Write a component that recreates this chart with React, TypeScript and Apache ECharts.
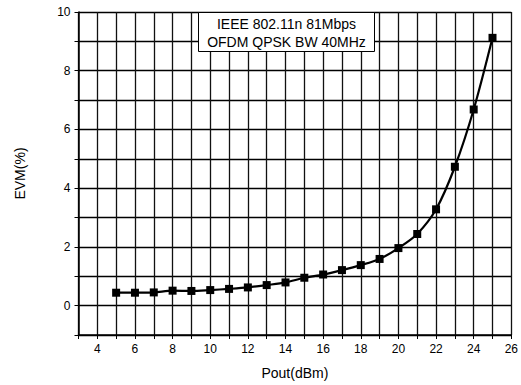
import React, { useEffect, useRef } from "react";
import * as echarts from "echarts";

const poutDbm = [5, 6, 7, 8, 9, 10, 11, 12, 13, 14, 15, 16, 17, 18, 19, 20, 21, 22, 23, 24, 25];
const evmPct = [0.44, 0.44, 0.45, 0.51, 0.5, 0.53, 0.57, 0.62, 0.7, 0.79, 0.95, 1.06, 1.21, 1.38, 1.59, 1.96, 2.44, 3.28, 4.73, 6.68, 9.12];
const annotationLines = ["IEEE 802.11n 81Mbps", "OFDM QPSK BW 40MHz"];
const xLabel = "Pout(dBm)";
const yLabel = "EVM(%)";

export default function App() {
  const ref = useRef<HTMLDivElement>(null);
  useEffect(() => {
    if (!ref.current) return;
    const chart = echarts.init(ref.current, undefined, { renderer: "svg" });
    const font = "'Liberation Sans', Arial, sans-serif";
    const data = poutDbm.map((x, i) => [x, evmPct[i]]);
    chart.setOption({
      animation: false,
      backgroundColor: "#fff",
      grid: { left: 78.5, right: 7.5, top: 12, bottom: 48.5 },
      xAxis: {
        type: "value",
        min: 3,
        max: 26,
        interval: 1,
        name: xLabel,
        nameLocation: "middle",
        nameGap: 31,
        nameTextStyle: { fontFamily: font, fontSize: 14, color: "#000" },
        axisLine: { show: true, onZero: false, lineStyle: { color: "#000", width: 1.5 } },
        axisTick: { show: true, length: 4, inside: false, lineStyle: { color: "#000" } },
        axisLabel: {
          fontFamily: font,
          fontSize: 12,
          color: "#000",
          margin: 8,
          formatter: (v: number) => (v % 2 === 0 ? String(v) : ""),
        },
        splitLine: { show: true, lineStyle: { color: "#111", width: 1.3 } },
      },
      yAxis: {
        type: "value",
        min: -1,
        max: 10,
        interval: 1,
        name: yLabel,
        nameLocation: "middle",
        nameGap: 52,
        nameRotate: 90,
        nameTextStyle: { fontFamily: font, fontSize: 14, color: "#000" },
        axisLine: { show: true, onZero: false, lineStyle: { color: "#000", width: 1.5 } },
        axisTick: { show: true, length: 4, inside: false, lineStyle: { color: "#000" } },
        axisLabel: {
          fontFamily: font,
          fontSize: 12,
          color: "#000",
          margin: 8,
          formatter: (v: number) => (v % 2 === 0 ? String(v) : ""),
        },
        splitLine: { show: true, lineStyle: { color: "#000", width: 1.4 } },
      },
      series: [
        {
          type: "line",
          data,
          smooth: 0.3,
          symbol: "rect",
          symbolSize: 8,
          lineStyle: { color: "#000", width: 2.2 },
          itemStyle: { color: "#000" },
          z: 5,
        },
      ],
      graphic: [
        {
          type: "group",
          left: 198,
          top: 12,
          z: 100,
          children: [
            {
              type: "rect",
              z: 100,
              shape: { x: 0, y: 0, width: 176, height: 39 },
              style: { fill: "#fff", stroke: "#000", lineWidth: 1 },
            },
            {
              type: "text",
              z: 101,
              x: 88,
              y: 11,
              style: {
                text: annotationLines[0],
                fontFamily: font,
                fontSize: 14,
                fill: "#000",
                align: "center",
                verticalAlign: "middle",
              },
            },
            {
              type: "text",
              z: 101,
              x: 88,
              y: 29,
              style: {
                text: annotationLines[1],
                fontFamily: font,
                fontSize: 14,
                fill: "#000",
                align: "center",
                verticalAlign: "middle",
              },
            },
          ],
        },
      ],
    });
    return () => chart.dispose();
  }, []);
  return (
    <div
      ref={ref}
      style={{ position: "fixed", left: 0, top: 0, width: 521, height: 385, background: "#fff" }}
    />
  );
}
